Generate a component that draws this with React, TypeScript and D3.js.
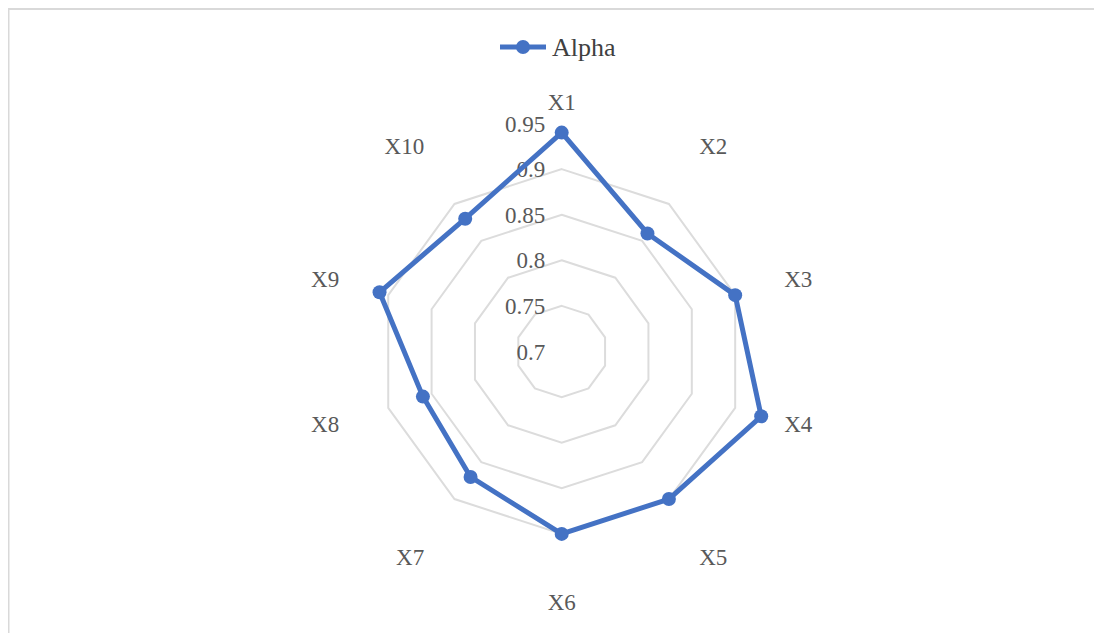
import React from "react";
import * as d3 from "d3";

const categories = ["X1", "X2", "X3", "X4", "X5", "X6", "X7", "X8", "X9", "X10"];
const alphaValues = [0.94, 0.86, 0.9, 0.93, 0.9, 0.9, 0.87, 0.86, 0.91, 0.88];
const tickValues = [0.7, 0.75, 0.8, 0.85, 0.9, 0.95];
const gridValues = [0.75, 0.8, 0.85, 0.9];
const seriesName = "Alpha";

const W = 1094;
const H = 625;
const cx = 553.7;
const cy = 343.5;
const BLUE = "#4472C4";
const FONT = "Liberation Serif, Times New Roman, serif";
const FS = 23;

export default function App() {
  const r = d3.scaleLinear().domain([0.7, 0.95]).range([0, 228]);
  const angle = d3
    .scaleLinear()
    .domain([0, categories.length])
    .range([0, 2 * Math.PI]);
  const pt = (i: number, v: number): [number, number] => {
    const a = angle(i);
    return [cx + r(v) * Math.sin(a), cy - r(v) * Math.cos(a)];
  };

  const ringPath = (v: number) =>
    d3.line().curve(d3.curveLinearClosed)(categories.map((_, i) => pt(i, v))) || "";
  const seriesPath =
    d3.line().curve(d3.curveLinearClosed)(alphaValues.map((v, i) => pt(i, v))) || "";

  const textStyle = { fontFamily: FONT, fontSize: FS };

  return (
    <svg width={W} height={H} style={{ display: "block" }}>
      <rect x={0.5} y={1} width={W + 20} height={H + 20} fill="#fff" stroke="#d9d9d9" strokeWidth={2} />
      {/* legend */}
      <g transform="translate(500,39)">
        <line x1={-8} x2={38} y1={0} y2={0} stroke={BLUE} strokeWidth={5} />
        <circle cx={15} cy={0} r={7} fill={BLUE} />
        <text x={44} y={0} dy="0.35em" style={{ fontFamily: FONT, fontSize: 26 }} fill="#404040">
          {seriesName}
        </text>
      </g>
      {/* grid rings */}
      {gridValues.map((v) => (
        <path key={v} d={ringPath(v)} fill="none" stroke="#dcdcdc" strokeWidth={2} />
      ))}
      {/* axis tick labels */}
      {tickValues.map((v) => (
        <text
          key={v}
          x={cx - 16.5}
          y={cy - r(v)}
          dy="0.35em"
          textAnchor="end"
          style={textStyle}
          fill="#595959"
        >
          {d3.format("")(v)}
        </text>
      ))}
      {/* series */}
      <path d={seriesPath} fill="none" stroke={BLUE} strokeWidth={5} strokeLinejoin="round" />
      {alphaValues.map((v, i) => {
        const [x, y] = pt(i, v);
        return <circle key={i} cx={x} cy={y} r={7} fill={BLUE} />;
      })}
      {/* category labels, placed just outside the outer ring */}
      {categories.map((c, i) => {
        const a = angle(i);
        const s = Math.sin(a);
        const k = Math.cos(a);
        const lr = 234;
        const anchor = Math.abs(s) < 0.1 ? "middle" : s > 0 ? "start" : "end";
        const yShift = Math.abs(k) > 0.5 ? -Math.sign(k) * 16 : 0;
        return (
          <text
            key={c}
            x={cx + lr * s}
            y={cy - lr * k + yShift}
            dy="0.35em"
            textAnchor={anchor}
            style={textStyle}
            fill="#595959"
          >
            {c}
          </text>
        );
      })}
    </svg>
  );
}
